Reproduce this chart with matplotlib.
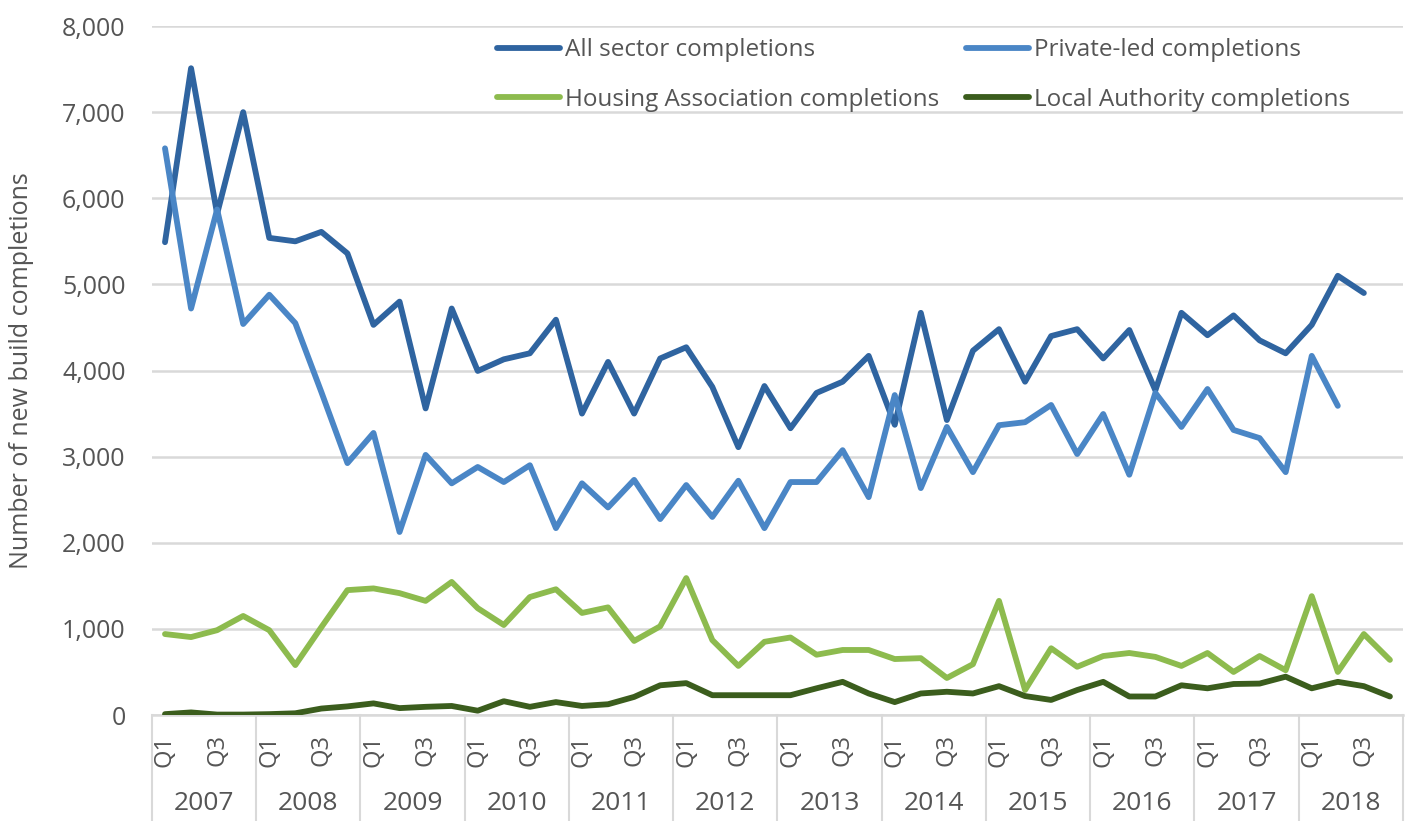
import matplotlib.pyplot as plt
from matplotlib.ticker import FuncFormatter
from matplotlib.transforms import blended_transform_factory

plt.rcParams['font.family'] = ['Open Sans', 'DejaVu Sans']

YEARS = [str(y) for y in range(2007, 2019)]
QUARTERS = ["Q1", "Q2", "Q3", "Q4"]

# quarterly completions, 2007 Q1 onwards
all_sector = [
    5490, 7510, 5820, 7000, 5540, 5500, 5610, 5360,
    4530, 4800, 3560, 4720, 3995, 4130, 4200, 4590,
    3500, 4100, 3500, 4140, 4270, 3810, 3110, 3820,
    3330, 3740, 3870, 4170, 3370, 4670, 3425, 4230,
    4480, 3870, 4400, 4480, 4140, 4470, 3770, 4670,
    4410, 4640, 4350, 4200, 4530, 5100, 4900,
]

private_led = [
    6580, 4720, 5870, 4540, 4880, 4550, 3750, 2925,
    3275, 2125, 3020, 2690, 2880, 2705, 2900, 2170,
    2690, 2410, 2730, 2275, 2670, 2300, 2720, 2170,
    2705, 2705, 3075, 2530, 3715, 2635, 3345, 2820,
    3365, 3400, 3600, 3030, 3495, 2790, 3740, 3345,
    3785, 3310, 3215, 2820, 4170, 3590,
]

housing_assoc = [
    940, 905, 985, 1150, 985, 580, 1020, 1450,
    1470, 1415, 1325, 1545, 1240, 1045, 1370, 1460,
    1185, 1250, 860, 1030, 1590, 870, 570, 850,
    900, 700, 755, 755, 650, 660, 430, 590,
    1325, 290, 775, 560, 685, 720, 675, 570,
    720, 500, 685, 520, 1380, 500, 940, 640,
]

local_authority = [
    10, 30, 5, 5, 10, 20, 75, 100,
    135, 80, 95, 105, 50, 160, 95, 150,
    105, 125, 210, 345, 370, 230, 230, 230,
    230, 310, 385, 250, 150, 250, 270, 250,
    335, 220, 175, 290, 385, 215, 215, 345,
    310, 360, 365, 445, 310, 385, 335, 215,
]

SERIES = [
    ("All sector completions", all_sector, "#2f64a0"),
    ("Private-led completions", private_led, "#4a86c6"),
    ("Housing Association completions", housing_assoc, "#8dbb4e"),
    ("Local Authority completions", local_authority, "#3b5d1d"),
]

n_quarters = len(YEARS) * len(QUARTERS)
text_color = "#555555"
grid_color = "#d9d9d9"

fig = plt.figure(figsize=(14.11, 8.21), dpi=100)
ax = fig.add_axes([0.1077, 0.1291, 0.8866, 0.8392])

# =========================
# Lines
# =========================
handles = {}
for name, values, color in SERIES:
    (line,) = ax.plot(
        range(len(values)), values,
        color=color, linewidth=4.2,
        solid_joinstyle="round", solid_capstyle="round",
        label=name, zorder=3,
    )
    handles[name] = line

# =========================
# Axes
# =========================
ax.set_xlim(-0.5, n_quarters - 0.5)
ax.set_ylim(0, 8000)
ax.set_yticks(range(0, 8001, 1000))
ax.yaxis.set_major_formatter(FuncFormatter(lambda v, p: f"{int(v):,}"))
ax.grid(axis="y", color=grid_color, linewidth=1.8, zorder=0)
ax.set_axisbelow(True)

for side in ["top", "right", "left"]:
    ax.spines[side].set_visible(False)
ax.spines["bottom"].set_color(grid_color)
ax.spines["bottom"].set_linewidth(1.8)

ax.tick_params(axis="y", length=0, pad=19, labelsize=18, labelcolor=text_color)

q_pos = [i for i in range(n_quarters) if i % 4 in (0, 2)]
q_lab = [QUARTERS[i % 4] for i in q_pos]
ax.set_xticks(q_pos)
ax.set_xticklabels(q_lab, rotation=90)
ax.tick_params(axis="x", length=0, pad=14, labelsize=17, labelcolor=text_color)

ax.set_ylabel("Number of new build completions", fontsize=18, color=text_color)
ax.yaxis.set_label_coords(-0.094, 0.5)

# year labels and separators under the axis
trans = blended_transform_factory(ax.transData, fig.transFigure)
for k, year in enumerate(YEARS):
    ax.text(4 * k + 1.5, 0.021, year, transform=trans,
            ha="center", va="center", fontsize=19, color=text_color)
for k in range(len(YEARS) + 1):
    ax.plot([4 * k - 0.5, 4 * k - 0.5], [0, 0.1291], transform=trans,
            color=grid_color, linewidth=1.5, clip_on=False)

# =========================
# Legend
# =========================
order = [
    "All sector completions",
    "Housing Association completions",
    "Private-led completions",
    "Local Authority completions",
]
leg = ax.legend(
    [handles[n] for n in order], order,
    ncol=2, frameon=False, loc="upper left",
    bbox_to_anchor=(0.3366, 0.980), bbox_transform=fig.transFigure,
    fontsize=17.5, handlelength=2.6, handletextpad=0.2,
    columnspacing=1.1, labelspacing=1.05,
)
for t in leg.get_texts():
    t.set_color(text_color)

plt.savefig("out.png", dpi=100, facecolor="white")
plt.close()
